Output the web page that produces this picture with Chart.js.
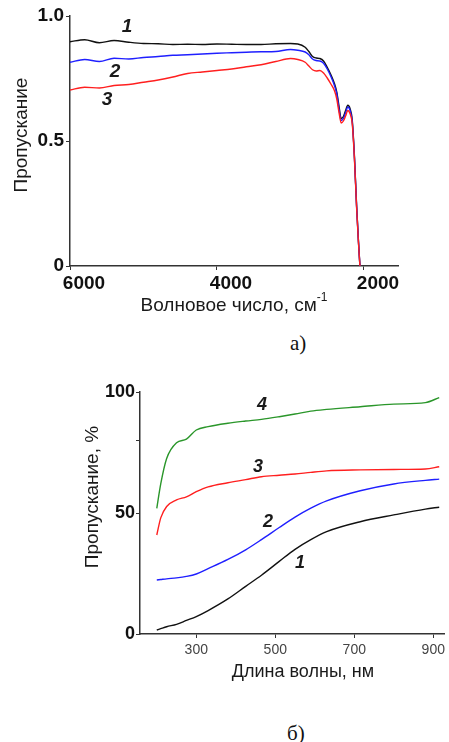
<!DOCTYPE html>
<html>
<head>
<meta charset="utf-8">
<script src="https://cdn.jsdelivr.net/npm/chart.js@4"></script>
<style>
body { margin: 0; background: #fff; width: 449px; height: 742px; position: relative; overflow: hidden; }
canvas { position: absolute; left: 0; }
#irCanv { top: 0; }
#uvCanv { top: 360px; }
.cap { position: absolute; font-family: 'Liberation Serif', 'Times New Roman', serif; font-size: 21px; color: #111; }
</style>
</head>
<body>
<canvas id="irCanv" width="449" height="325"></canvas>
<canvas id="uvCanv" width="449" height="335"></canvas>
<div class="cap" style="left:290px;top:331px">а)</div>
<div class="cap" style="left:287px;top:721px">б)</div>
<script>
// a) IR transmission vs wavenumber
const wavenumbers = [6000, 5800, 5600, 5400, 5200, 5000, 4800, 4600, 4400, 4200, 4000, 3800, 3600, 3400, 3200, 3000, 2900, 2800, 2750, 2700, 2650, 2600, 2550, 2500, 2450, 2400, 2370, 2340, 2310, 2280, 2250, 2220, 2190, 2160, 2130, 2100, 2075, 2055];
const irCurve1 = [0.897, 0.905, 0.893, 0.902, 0.895, 0.890, 0.889, 0.886, 0.887, 0.886, 0.888, 0.887, 0.886, 0.886, 0.889, 0.890, 0.888, 0.875, 0.858, 0.838, 0.832, 0.830, 0.820, 0.795, 0.765, 0.728, 0.695, 0.640, 0.590, 0.598, 0.622, 0.643, 0.630, 0.585, 0.440, 0.240, 0.100, 0];
const irCurve2 = [0.815, 0.826, 0.818, 0.831, 0.828, 0.834, 0.838, 0.843, 0.845, 0.848, 0.851, 0.853, 0.855, 0.857, 0.858, 0.866, 0.863, 0.856, 0.845, 0.828, 0.822, 0.820, 0.811, 0.788, 0.758, 0.720, 0.688, 0.628, 0.582, 0.590, 0.613, 0.636, 0.623, 0.578, 0.436, 0.236, 0.097, 0];
const irCurve3 = [0.704, 0.715, 0.712, 0.722, 0.726, 0.735, 0.744, 0.756, 0.770, 0.776, 0.782, 0.788, 0.797, 0.805, 0.818, 0.830, 0.826, 0.815, 0.800, 0.785, 0.780, 0.782, 0.772, 0.752, 0.728, 0.700, 0.668, 0.615, 0.572, 0.580, 0.600, 0.622, 0.610, 0.570, 0.430, 0.232, 0.094, 0];
const irXTicks = [6000, 4000, 2000];
const irYTicks = [0, 0.5, 1.0];

// б) UV-vis transmission vs wavelength
const wavelengths = [200, 210, 225, 250, 275, 300, 330, 380, 425, 465, 510, 550, 590, 630, 715, 800, 880, 915];
const uvCurve1 = [1.65, 2.2, 3.0, 4.0, 5.6, 7.2, 9.7, 14.5, 19.7, 24.3, 30.0, 35.0, 39.0, 42.3, 46.4, 49.2, 51.6, 52.4];
const uvCurve2 = [22.3, 22.5, 22.8, 23.2, 23.8, 24.8, 27.0, 30.8, 34.8, 39.0, 44.0, 48.3, 52.0, 55.0, 59.2, 62.0, 63.5, 64.0];
const uvCurve3 = [40.9, 48.0, 52.7, 55.4, 56.7, 58.8, 60.8, 62.5, 63.8, 65.0, 65.6, 66.1, 66.8, 67.4, 67.8, 68.0, 68.2, 69.1];
const uvCurve4 = [51.9, 62.0, 72.5, 79.0, 80.5, 84.3, 85.7, 87.1, 88.0, 88.7, 89.8, 90.9, 92.1, 92.8, 93.9, 95.0, 95.6, 97.7];
const uvXTicks = [300, 500, 700, 900];
const uvYTicks = [0, 50, 80, 100];

const black = '#111111';
const blue = '#1f1fff';
const red = '#ff1f1f';
const green = '#2a962a';
const axisColor = '#333333';
const sans = "'Liberation Sans', Arial, sans-serif";

const toPoints = (xs, ys) => xs.map((x, i) => ({x: x, y: ys[i]}));

const line = (xs, ys, color, label) => ({
    label: label,
    data: toPoints(xs, ys),
    borderColor: color,
    borderWidth: 1.4,
    pointRadius: 0,
    fill: false,
    cubicInterpolationMode: 'monotone'
});

// draws axis titles and curve numbers
const textPlugin = {
    id: 'texts',
    afterDraw(chart, args, opts) {
        const ctx = chart.ctx;
        opts.items.forEach(t => {
            ctx.save();
            ctx.fillStyle = t.color || '#1a1a1a';
            ctx.font = t.font;
            ctx.textAlign = 'center';
            ctx.textBaseline = 'middle';
            ctx.translate(t.x, t.y);
            if (t.rotate) ctx.rotate(t.rotate);
            if (t.sup) {
                const w = ctx.measureText(t.text).width;
                ctx.font = t.supFont;
                const ws = ctx.measureText(t.sup).width;
                ctx.textAlign = 'left';
                ctx.fillText(t.sup, (w - ws) / 2, -8);
                ctx.font = t.font;
                ctx.fillText(t.text, -(w + ws) / 2, 0);
            } else {
                ctx.fillText(t.text, 0, 0);
            }
            ctx.restore();
        });
    }
};

const axisGrid = {
    display: true,
    drawOnChartArea: false,
    drawTicks: true,
    tickLength: 4,
    color: axisColor
};

const irConfig = {
    type: 'line',
    data: {
        datasets: [
            line(wavenumbers, irCurve3, red, '3'),
            line(wavenumbers, irCurve2, blue, '2'),
            line(wavenumbers, irCurve1, black, '1')
        ]
    },
    options: {
        responsive: false,
        animation: false,
        layout: { padding: { left: 0, right: 51, top: 16, bottom: 0 } },
        scales: {
            x: {
                type: 'linear',
                reverse: true,
                min: 1537,
                max: 6000,
                grid: axisGrid,
                border: { display: true, color: axisColor, width: 1.5 },
                afterBuildTicks: s => { s.ticks = irXTicks.map(v => ({value: v})); },
                afterFit: s => { s.height = 325 - 266; },
                ticks: {
                    font: { size: 19, weight: 'bold', family: sans },
                    color: '#111',
                    padding: 2,
                    labelOffset: 14,
                    maxRotation: 0,
                    callback: v => String(v)
                }
            },
            y: {
                min: 0,
                max: 1.0,
                grid: axisGrid,
                border: { display: true, color: axisColor, width: 1.5 },
                afterBuildTicks: s => { s.ticks = irYTicks.map(v => ({value: v})); },
                afterFit: s => { s.width = 70; },
                ticks: {
                    font: { size: 19, weight: 'bold', family: sans },
                    color: '#111',
                    padding: 2,
                    callback: v => v === 0 ? '0' : v.toFixed(1)
                }
            }
        },
        plugins: {
            legend: { display: false },
            tooltip: { enabled: false },
            texts: {
                items: [
                    { text: 'Пропускание', x: 22, y: 135, rotate: -Math.PI / 2, font: '19px ' + sans },
                    { text: 'Волновое число, см', sup: '-1', x: 234, y: 306, font: '19px ' + sans, supFont: '12px ' + sans },
                    { text: '1', x: 127, y: 27, font: 'italic bold 19px ' + sans },
                    { text: '2', x: 115, y: 72, font: 'italic bold 19px ' + sans },
                    { text: '3', x: 107, y: 100, font: 'italic bold 19px ' + sans }
                ]
            }
        }
    },
    plugins: [textPlugin]
};

const uvConfig = {
    type: 'line',
    data: {
        datasets: [
            line(wavelengths, uvCurve1, black, '1'),
            line(wavelengths, uvCurve2, blue, '2'),
            line(wavelengths, uvCurve3, red, '3'),
            line(wavelengths, uvCurve4, green, '4')
        ]
    },
    options: {
        responsive: false,
        animation: false,
        layout: { padding: { left: 0, right: 1, top: 32, bottom: 0 } },
        scales: {
            x: {
                type: 'linear',
                min: 157.5,
                max: 927.5,
                grid: axisGrid,
                border: { display: true, color: axisColor, width: 1.5 },
                afterBuildTicks: s => { s.ticks = uvXTicks.map(v => ({value: v})); },
                afterFit: s => { s.height = 335 - 274; },
                ticks: {
                    font: { size: 14, family: sans },
                    color: '#444',
                    padding: 4,
                    maxRotation: 0,
                    callback: v => String(v)
                }
            },
            y: {
                min: 0,
                max: 100,
                grid: axisGrid,
                border: { display: true, color: axisColor, width: 1.5 },
                afterBuildTicks: s => { s.ticks = uvYTicks.map(v => ({value: v})); },
                afterFit: s => { s.width = 140; },
                ticks: {
                    font: { size: 18, weight: 'bold', family: sans },
                    color: '#111',
                    padding: 1,
                    callback: v => v === 80 ? '' : String(v)
                }
            }
        },
        plugins: {
            legend: { display: false },
            tooltip: { enabled: false },
            texts: {
                items: [
                    { text: 'Пропускание, %', x: 93, y: 137, rotate: -Math.PI / 2, font: '19px ' + sans },
                    { text: 'Длина волны, нм', x: 303, y: 312, font: '18px ' + sans },
                    { text: '4', x: 262, y: 45, font: 'italic bold 18px ' + sans },
                    { text: '3', x: 258, y: 107, font: 'italic bold 18px ' + sans },
                    { text: '2', x: 268, y: 162, font: 'italic bold 18px ' + sans },
                    { text: '1', x: 300, y: 203, font: 'italic bold 18px ' + sans }
                ]
            }
        }
    },
    plugins: [textPlugin]
};

new Chart(document.getElementById('irCanv'), irConfig);
new Chart(document.getElementById('uvCanv'), uvConfig);
</script>
</body>
</html>
